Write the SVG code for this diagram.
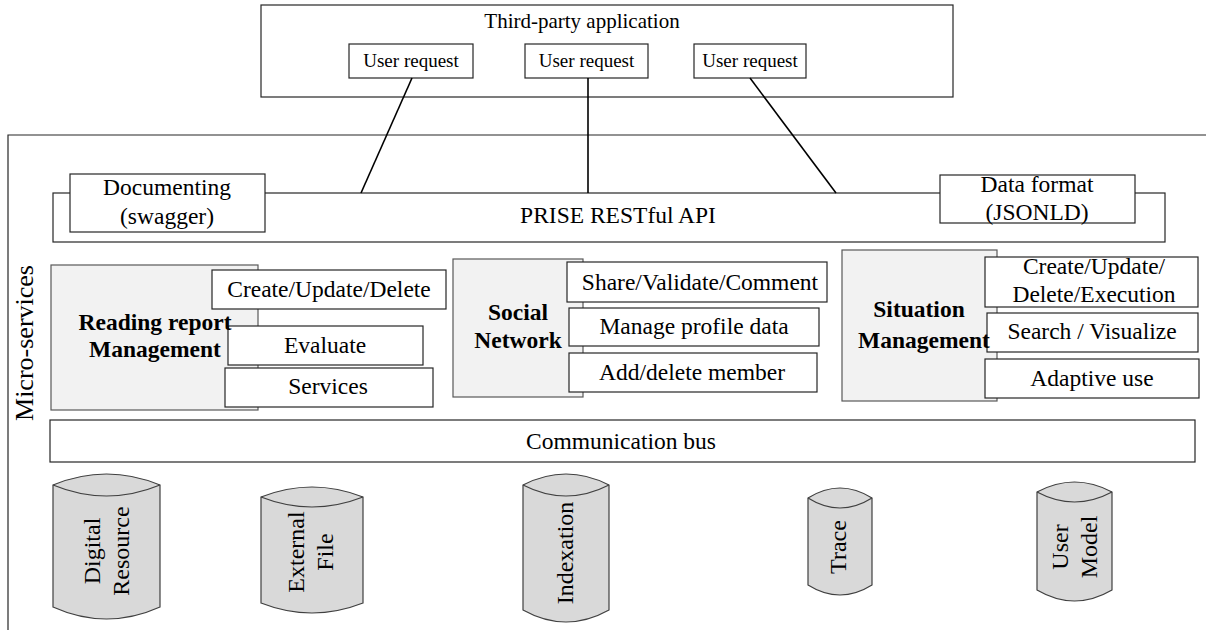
<svg xmlns="http://www.w3.org/2000/svg" width="1206" height="630" viewBox="0 0 1206 630">
<style>
.box{fill:#fff;stroke:#262626;stroke-width:1.2}
.svc{fill:#f2f2f2;stroke:#595959;stroke-width:1.2}
.cyl{fill:#d9d9d9;stroke:#404040;stroke-width:1.2}
.lens{fill:none;stroke:#404040;stroke-width:1.2}
.frame{fill:none;stroke:#262626;stroke-width:1.2}
.t{font-family:"Liberation Serif","Times New Roman",serif;font-size:23.5px;fill:#000;text-anchor:middle}
.s19{font-size:19px}
.s21{font-size:21px}
.b{font-weight:bold}
.conn{stroke:#000;stroke-width:1.6;fill:none}
</style>
<rect width="1206" height="630" fill="#fff"/>

<g id="third-party">
<rect class="box" x="261" y="5" width="692" height="92"/>
<text class="t s21" x="582" y="28">Third-party application</text>
</g>
<g id="user-request-1">
<rect class="box" x="349" y="44" width="124" height="34"/>
<text class="t s19" x="411" y="67">User request</text>
</g>
<g id="user-request-2">
<rect class="box" x="525" y="44" width="123" height="34"/>
<text class="t s19" x="586.5" y="67">User request</text>
</g>
<g id="user-request-3">
<rect class="box" x="694" y="44" width="112" height="34"/>
<text class="t s19" x="750" y="67">User request</text>
</g>

<g id="micro-services">
<path class="frame" d="M1206 135 H8 V630"/>
<text class="t" style="font-size:26px" transform="translate(33 343) rotate(-90)" x="0" y="0">Micro-services</text>
</g>

<g id="restful-api">
<rect class="box" x="53" y="193" width="1112" height="49"/>
<text class="t" x="618" y="223">PRISE RESTful API</text>
</g>
<g id="documenting">
<rect class="box" x="70" y="174" width="195" height="58"/>
<text class="t" x="167" y="195">Documenting</text>
<text class="t" x="167" y="224">(swagger)</text>
</g>
<g id="data-format">
<rect class="box" x="940" y="175" width="195" height="48"/>
<text class="t" x="1037" y="192">Data format</text>
<text class="t" x="1037" y="220">(JSONLD)</text>
</g>

<g id="reading-report">
<rect class="svc" x="51" y="265" width="207" height="145"/>
<rect class="box" x="212" y="270" width="234" height="39"/>
<text class="t" x="329" y="297">Create/Update/Delete</text>
<rect class="box" x="228" y="326" width="195" height="39"/>
<text class="t" x="325" y="353">Evaluate</text>
<rect class="box" x="225" y="368" width="208" height="39"/>
<text class="t" x="328" y="394">Services</text>
<text class="t b" x="155" y="330">Reading report</text>
<text class="t b" x="155" y="357">Management</text>
</g>

<g id="social-network">
<rect class="svc" x="453" y="259" width="130" height="138"/>
<rect class="box" x="567" y="262" width="260" height="40"/>
<text class="t" x="700" y="290">Share/Validate/Comment</text>
<rect class="box" x="569" y="308" width="250" height="38"/>
<text class="t" x="694" y="334">Manage profile data</text>
<rect class="box" x="569" y="353" width="248" height="39"/>
<text class="t" x="692" y="380">Add/delete member</text>
<text class="t b" x="518" y="320">Social</text>
<text class="t b" x="518" y="348">Network</text>
</g>

<g id="situation-management">
<rect class="svc" x="842" y="250" width="155" height="151"/>
<rect class="box" x="985" y="257" width="213" height="50"/>
<text class="t" x="1094" y="274">Create/Update/</text>
<text class="t" x="1094" y="302">Delete/Execution</text>
<rect class="box" x="987" y="313" width="211" height="39"/>
<text class="t" x="1092" y="339">Search / Visualize</text>
<rect class="box" x="985" y="359" width="214" height="39"/>
<text class="t" x="1092" y="386">Adaptive use</text>
<text class="t b" x="919" y="317">Situation</text>
<text class="t b" x="924" y="348">Management</text>
</g>

<g id="communication-bus">
<rect class="box" x="50" y="420" width="1145" height="42"/>
<text class="t" x="621" y="449">Communication bus</text>
</g>

<g id="db-digital-resource">
<path class="cyl" d="M53 485 V607 Q106.5 631 160 607 V485 Q106.5 463 53 485 Z"/>
<path class="lens" d="M53 485 Q106.5 507 160 485"/>
<text class="t" style="font-size:24px" transform="translate(0 551) rotate(-90)"><tspan x="0" y="100">Digital</tspan><tspan x="0" y="129">Resource</tspan></text>
</g>
<g id="db-external-file">
<path class="cyl" d="M261 497 V603 Q312 623 363 603 V497 Q312 477 261 497 Z"/>
<path class="lens" d="M261 497 Q312 517 363 497"/>
<text class="t" style="font-size:24px" transform="translate(0 552) rotate(-90)"><tspan x="0" y="304">External</tspan><tspan x="0" y="333">File</tspan></text>
</g>
<g id="db-indexation">
<path class="cyl" d="M523 485 V610 Q566 634 609 610 V485 Q566 463 523 485 Z"/>
<path class="lens" d="M523 485 Q566 507 609 485"/>
<text class="t" style="font-size:24px" transform="translate(0 553) rotate(-90)" x="0" y="573">Indexation</text>
</g>
<g id="db-trace">
<path class="cyl" d="M808 498 V585 Q840 605 872 585 V498 Q840 478 808 498 Z"/>
<path class="lens" d="M808 498 Q840 518 872 498"/>
<text class="t" style="font-size:24px" transform="translate(0 547) rotate(-90)" x="0" y="846">Trace</text>
</g>
<g id="db-user-model">
<path class="cyl" d="M1037 492 V590 Q1074.5 612 1112 590 V492 Q1074.5 472 1037 492 Z"/>
<path class="lens" d="M1037 492 Q1074.5 512 1112 492"/>
<text class="t" style="font-size:24px" transform="translate(0 547) rotate(-90)"><tspan x="0" y="1068">User</tspan><tspan x="0" y="1097">Model</tspan></text>
</g>

<g id="connectors">
<line class="conn" x1="412" y1="78" x2="361" y2="193"/>
<line class="conn" x1="588" y1="78" x2="588" y2="193"/>
<line class="conn" x1="750" y1="78" x2="836" y2="193"/>
</g>
</svg>
